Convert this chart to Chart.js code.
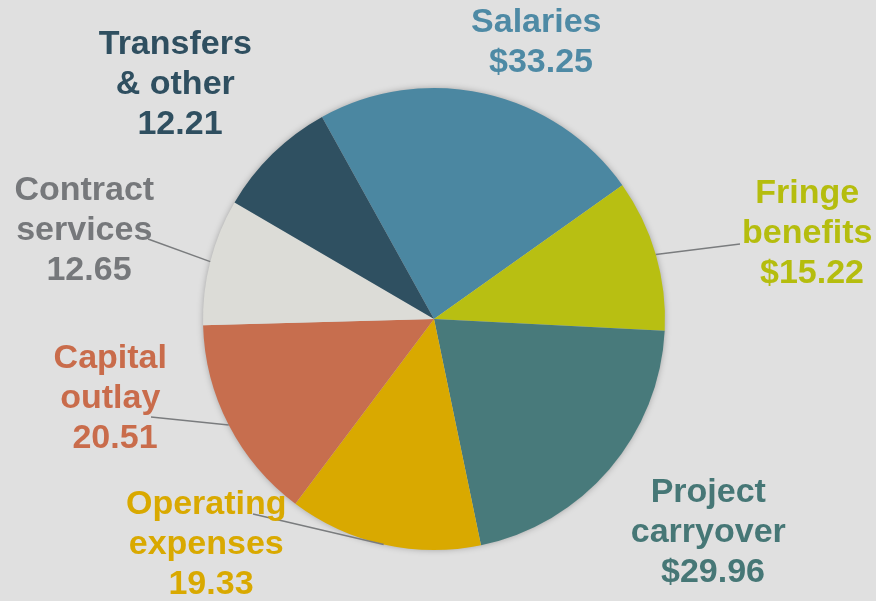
<!DOCTYPE html>
<html>
<head>
<meta charset="utf-8">
<script src="https://cdn.jsdelivr.net/npm/chart.js@4"></script>
<style>
  html, body { margin: 0; padding: 0; background: #e0e0e0; }
  canvas { display: block; }
</style>
</head>
<body>
<canvas id="pieChart" width="876" height="601"></canvas>
<script>
const categories = [
  ["Salaries"],
  ["Fringe", "benefits"],
  ["Project", "carryover"],
  ["Operating", "expenses"],
  ["Capital", "outlay"],
  ["Contract", "services"],
  ["Transfers", "& other"],
];
const values = [33.25, 15.22, 29.96, 19.33, 20.51, 12.65, 12.21];
const valueLabels = ["$33.25", "$15.22", "$29.96", "19.33", "20.51", "12.65", "12.21"];

const sliceColors = ["#4b87a1", "#b8bf12", "#487a7b", "#d9a900", "#c76e4e", "#dcdcd7", "#2f5061"];
const textColors = ["#4e8aa5", "#b5bd0e", "#467776", "#d9a900", "#c96c4b", "#76787b", "#2f4f60"];

// where each label block sits (centre x, first baseline) and where its leader line ends
const labelSpots = [
  { x: 541, y: 32 },
  { x: 812, y: 203, leader: [740, 244] },
  { x: 713, y: 502 },
  { x: 211, y: 514, leader: [253, 514] },
  { x: 115, y: 368, leader: [151, 417] },
  { x: 89, y: 200, leader: [148, 239] },
  { x: 180, y: 54 },
];

const sliceLabels = {
  id: "sliceLabels",
  beforeDatasetsDraw(chart) {
    const arc = chart.getDatasetMeta(0).data[0];
    if (!arc) return;
    const ctx = chart.ctx;
    ctx.save();
    ctx.shadowColor = "rgba(0,0,0,0.35)";
    ctx.shadowBlur = 7;
    ctx.fillStyle = "#cccccc";
    ctx.beginPath();
    ctx.arc(arc.x, arc.y, arc.outerRadius - 1, 0, Math.PI * 2);
    ctx.fill();
    ctx.restore();
  },
  afterDatasetsDraw(chart) {
    const ctx = chart.ctx;
    const meta = chart.getDatasetMeta(0);
    ctx.save();
    meta.data.forEach((arc, i) => {
      const spot = labelSpots[i];
      if (spot.leader) {
        const mid = (arc.startAngle + arc.endAngle) / 2;
        ctx.strokeStyle = "#7a7c7e";
        ctx.lineWidth = 1.5;
        ctx.beginPath();
        ctx.moveTo(arc.x + Math.cos(mid) * arc.outerRadius, arc.y + Math.sin(mid) * arc.outerRadius);
        ctx.lineTo(spot.leader[0], spot.leader[1]);
        ctx.stroke();
      }
      const lines = categories[i].map((w) => w + " ").concat([valueLabels[i]]);
      ctx.font = "bold 34px 'Liberation Sans', Arial, sans-serif";
      ctx.textAlign = "center";
      ctx.textBaseline = "alphabetic";
      ctx.fillStyle = textColors[i];
      lines.forEach((t, k) => ctx.fillText(t, spot.x, spot.y + k * 40));
    });
    ctx.restore();
  },
};

new Chart(document.getElementById("pieChart"), {
  type: "pie",
  data: {
    labels: categories,
    datasets: [
      {
        data: values,
        backgroundColor: sliceColors,
        borderWidth: 0,
      },
    ],
  },
  options: {
    responsive: false,
    animation: false,
    rotation: -29,
    layout: { padding: { left: 203, right: 211, top: 88, bottom: 51 } },
    plugins: {
      legend: { display: false },
      tooltip: { enabled: false },
    },
  },
  plugins: [sliceLabels],
});
</script>
</body>
</html>
